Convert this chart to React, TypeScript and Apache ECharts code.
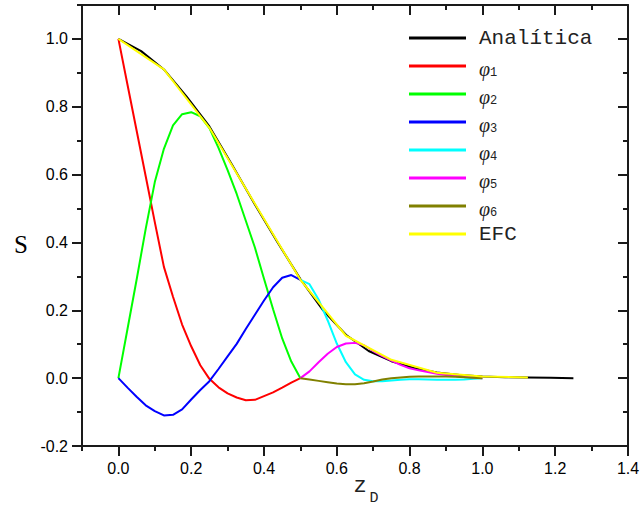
import React, { useEffect, useRef } from "react";
import * as echarts from "echarts";

// ---- data ----
const zAnalitica = [0, 0.0625, 0.125, 0.1875, 0.25, 0.3125, 0.375, 0.4375, 0.5, 0.5625, 0.625, 0.6875, 0.75, 0.8125, 0.875, 0.9375, 1.0, 1.0625, 1.125, 1.1875, 1.25];
const sAnalitica = [1.0, 0.964, 0.91, 0.83, 0.742, 0.628, 0.512, 0.4, 0.292, 0.2, 0.128, 0.08, 0.05, 0.03, 0.017, 0.009, 0.005, 0.003, 0.002, 0.001, 0.0];

const zEFC = [0, 0.125, 0.25, 0.375, 0.5, 0.625, 0.75, 0.875, 1.0, 1.125];
const sEFC = [1.0, 0.91, 0.738, 0.514, 0.29, 0.125, 0.054, 0.016, 0.005, 0.002];

const zLeft = [0, 0.025, 0.05, 0.075, 0.1, 0.125, 0.15, 0.175, 0.2, 0.225, 0.25, 0.275, 0.3, 0.325, 0.35, 0.375, 0.4, 0.425, 0.45, 0.475, 0.5];
const phi1 = [1.0, 0.865, 0.73, 0.595, 0.46, 0.328, 0.24, 0.158, 0.094, 0.038, -0.002, -0.027, -0.045, -0.057, -0.065, -0.064, -0.053, -0.042, -0.028, -0.013, 0.0];
const phi2 = [0.0, 0.145, 0.29, 0.44, 0.578, 0.676, 0.745, 0.778, 0.784, 0.772, 0.737, 0.679, 0.613, 0.543, 0.464, 0.385, 0.293, 0.203, 0.117, 0.049, 0.0];
const phi3 = [0.0, -0.028, -0.055, -0.08, -0.097, -0.11, -0.108, -0.092, -0.063, -0.035, -0.009, 0.027, 0.064, 0.101, 0.145, 0.187, 0.229, 0.268, 0.296, 0.304, 0.29];

const zRight = [0.5, 0.525, 0.55, 0.575, 0.6, 0.625, 0.65, 0.675, 0.7, 0.725, 0.75, 0.775, 0.8, 0.825, 0.85, 0.875, 0.9, 0.925, 0.95, 0.975, 1.0];
const phi4 = [0.29, 0.277, 0.232, 0.17, 0.102, 0.047, 0.011, -0.005, -0.009, -0.009, -0.007, -0.005, -0.003, -0.003, -0.004, -0.005, -0.005, -0.005, -0.004, -0.002, 0.0];
const phi5 = [0.0, 0.02, 0.047, 0.072, 0.092, 0.102, 0.104, 0.097, 0.08, 0.065, 0.052, 0.039, 0.029, 0.023, 0.018, 0.013, 0.009, 0.006, 0.004, 0.002, 0.0];
const phi6 = [0.0, -0.004, -0.008, -0.012, -0.016, -0.018, -0.018, -0.015, -0.01, -0.004, 0.0, 0.002, 0.004, 0.005, 0.005, 0.005, 0.005, 0.004, 0.003, 0.001, 0.0];

const xMajorTicks = [0, 0.2, 0.4, 0.6, 0.8, 1.0, 1.2, 1.4];
const yMajorTicks = [-0.2, 0, 0.2, 0.4, 0.6, 0.8, 1.0];

const seriesDefs = [
  { name: "Analítica", color: "#000000", x: zAnalitica, y: sAnalitica },
  { name: "φ1", color: "#ff0000", x: zLeft, y: phi1 },
  { name: "φ2", color: "#00ff00", x: zLeft, y: phi2 },
  { name: "φ3", color: "#0000ff", x: zLeft, y: phi3 },
  { name: "φ4", color: "#00ffff", x: zRight, y: phi4 },
  { name: "φ5", color: "#ff00ff", x: zRight, y: phi5 },
  { name: "φ6", color: "#808000", x: zRight, y: phi6 },
  { name: "EFC", color: "#ffff00", x: zEFC, y: sEFC },
];

const AX = "#1a1a1a";
const axLine = { lineStyle: { color: AX, width: 2 } };

function buildOption() {
  const xMin = -0.1, xMax = 1.4, yMin = -0.2, yMax = 1.1;
  const noLabel = { show: false };
  const tickLabel = {
    fontFamily: "Liberation Sans",
    fontSize: 16,
    color: "#000",
    margin: 14,
    formatter: (v: number) => v.toFixed(1),
  };
  return {
    animation: false,
    backgroundColor: "#ffffff",
    grid: { left: 82, right: 16, top: 5, bottom: 62, containLabel: false, outerBoundsMode: "none" },
    xAxis: [
      {
        type: "value", min: xMin, max: xMax, interval: 0.1, position: "bottom",
        axisLine: { show: true, onZero: false, ...axLine },
        axisTick: { show: true, length: 5, ...axLine },
        axisLabel: noLabel, splitLine: { show: false },
        name: "{z|z}{d|D}",
        nameLocation: "middle",
        nameGap: 20,
        nameTextStyle: {
          padding: [0, 0, 0, 22],
          verticalAlign: "top",
          lineHeight: 40,
          rich: {
            z: { fontFamily: "Liberation Mono", fontSize: 22, color: "#222", verticalAlign: "middle" },
            d: { fontFamily: "Liberation Mono", fontSize: 15, color: "#222", verticalAlign: "bottom", padding: [0, 0, 0, 3] },
          },
        },
      },
      {
        type: "value", min: xMin, max: xMax, position: "bottom",
        axisLine: { show: false, onZero: false },
        axisTick: { show: true, length: 10, customValues: xMajorTicks, ...axLine },
        axisLabel: { ...tickLabel, customValues: xMajorTicks },
        splitLine: { show: false },
      },
      {
        type: "value", min: xMin, max: xMax, interval: 0.1, position: "top",
        axisLine: { show: true, onZero: false, ...axLine },
        axisTick: { show: true, inside: true, length: 5, ...axLine },
        axisLabel: noLabel, splitLine: { show: false },
      },
      {
        type: "value", min: xMin, max: xMax, position: "top",
        axisLine: { show: false, onZero: false },
        axisTick: { show: true, inside: true, length: 10, customValues: xMajorTicks, ...axLine },
        axisLabel: noLabel, splitLine: { show: false },
      },
    ],
    yAxis: [
      {
        type: "value", min: yMin, max: yMax, interval: 0.1, position: "left",
        axisLine: { show: true, onZero: false, ...axLine },
        axisTick: { show: true, length: 5, ...axLine },
        axisLabel: noLabel, splitLine: { show: false },
        name: "S",
        nameLocation: "middle",
        nameRotate: 0,
        nameGap: 54,
        nameTextStyle: {
          fontFamily: "Liberation Serif", fontSize: 25, color: "#000",
          verticalAlign: "top", lineHeight: 38,
        },
      },
      {
        type: "value", min: yMin, max: yMax, position: "left",
        axisLine: { show: false, onZero: false },
        axisTick: { show: true, length: 10, customValues: yMajorTicks, ...axLine },
        axisLabel: { ...tickLabel, customValues: yMajorTicks },
        splitLine: { show: false },
      },
      {
        type: "value", min: yMin, max: yMax, interval: 0.1, position: "right",
        axisLine: { show: true, onZero: false, ...axLine },
        axisTick: { show: true, inside: true, length: 5, ...axLine },
        axisLabel: noLabel, splitLine: { show: false },
      },
      {
        type: "value", min: yMin, max: yMax, position: "right",
        axisLine: { show: false, onZero: false },
        axisTick: { show: true, inside: true, length: 10, customValues: yMajorTicks, ...axLine },
        axisLabel: noLabel, splitLine: { show: false },
      },
    ],
    legend: {
      orient: "vertical",
      left: 409,
      top: 25,
      padding: 0,
      icon: "rect",
      itemWidth: 57,
      itemHeight: 3,
      itemGap: 2.0,
      data: seriesDefs.map((s) => s.name),
      formatter: (name: string) =>
        name.startsWith("φ") ? `{p|φ}{s|${name.slice(1)}}` : `{t|${name}}`,
      textStyle: {
        color: "#000",
        fontFamily: "Liberation Mono",
        fontSize: 21,
        padding: [0, 0, 0, 8],
        lineHeight: 26,
        rich: {
          t: { fontFamily: "Liberation Mono", fontSize: 21, color: "#222", verticalAlign: "middle" },
          p: { fontFamily: "Liberation Serif", fontStyle: "italic", fontSize: 20, color: "#222", verticalAlign: "bottom" },
          s: { fontFamily: "Liberation Mono", fontSize: 12, color: "#222", verticalAlign: "bottom" },
        },
      },
    },
    series: seriesDefs.map((s) => ({
      name: s.name,
      type: "line",
      xAxisIndex: 0,
      yAxisIndex: 0,
      symbol: "none",
      smooth: false,
      color: s.color,
      itemStyle: { color: s.color },
      lineStyle: { color: s.color, width: 2 },
      data: s.x.map((x, i) => [x, s.y[i]]),
    })),
  };
}

export default function App() {
  const ref = useRef<HTMLDivElement>(null);
  useEffect(() => {
    if (!ref.current) return;
    const chart = echarts.init(ref.current, null, { renderer: "svg" });
    chart.setOption(buildOption() as any);
    return () => chart.dispose();
  }, []);
  return (
    <div
      ref={ref}
      style={{ position: "absolute", left: 0, top: 0, width: 644, height: 508, background: "#fff" }}
    />
  );
}
